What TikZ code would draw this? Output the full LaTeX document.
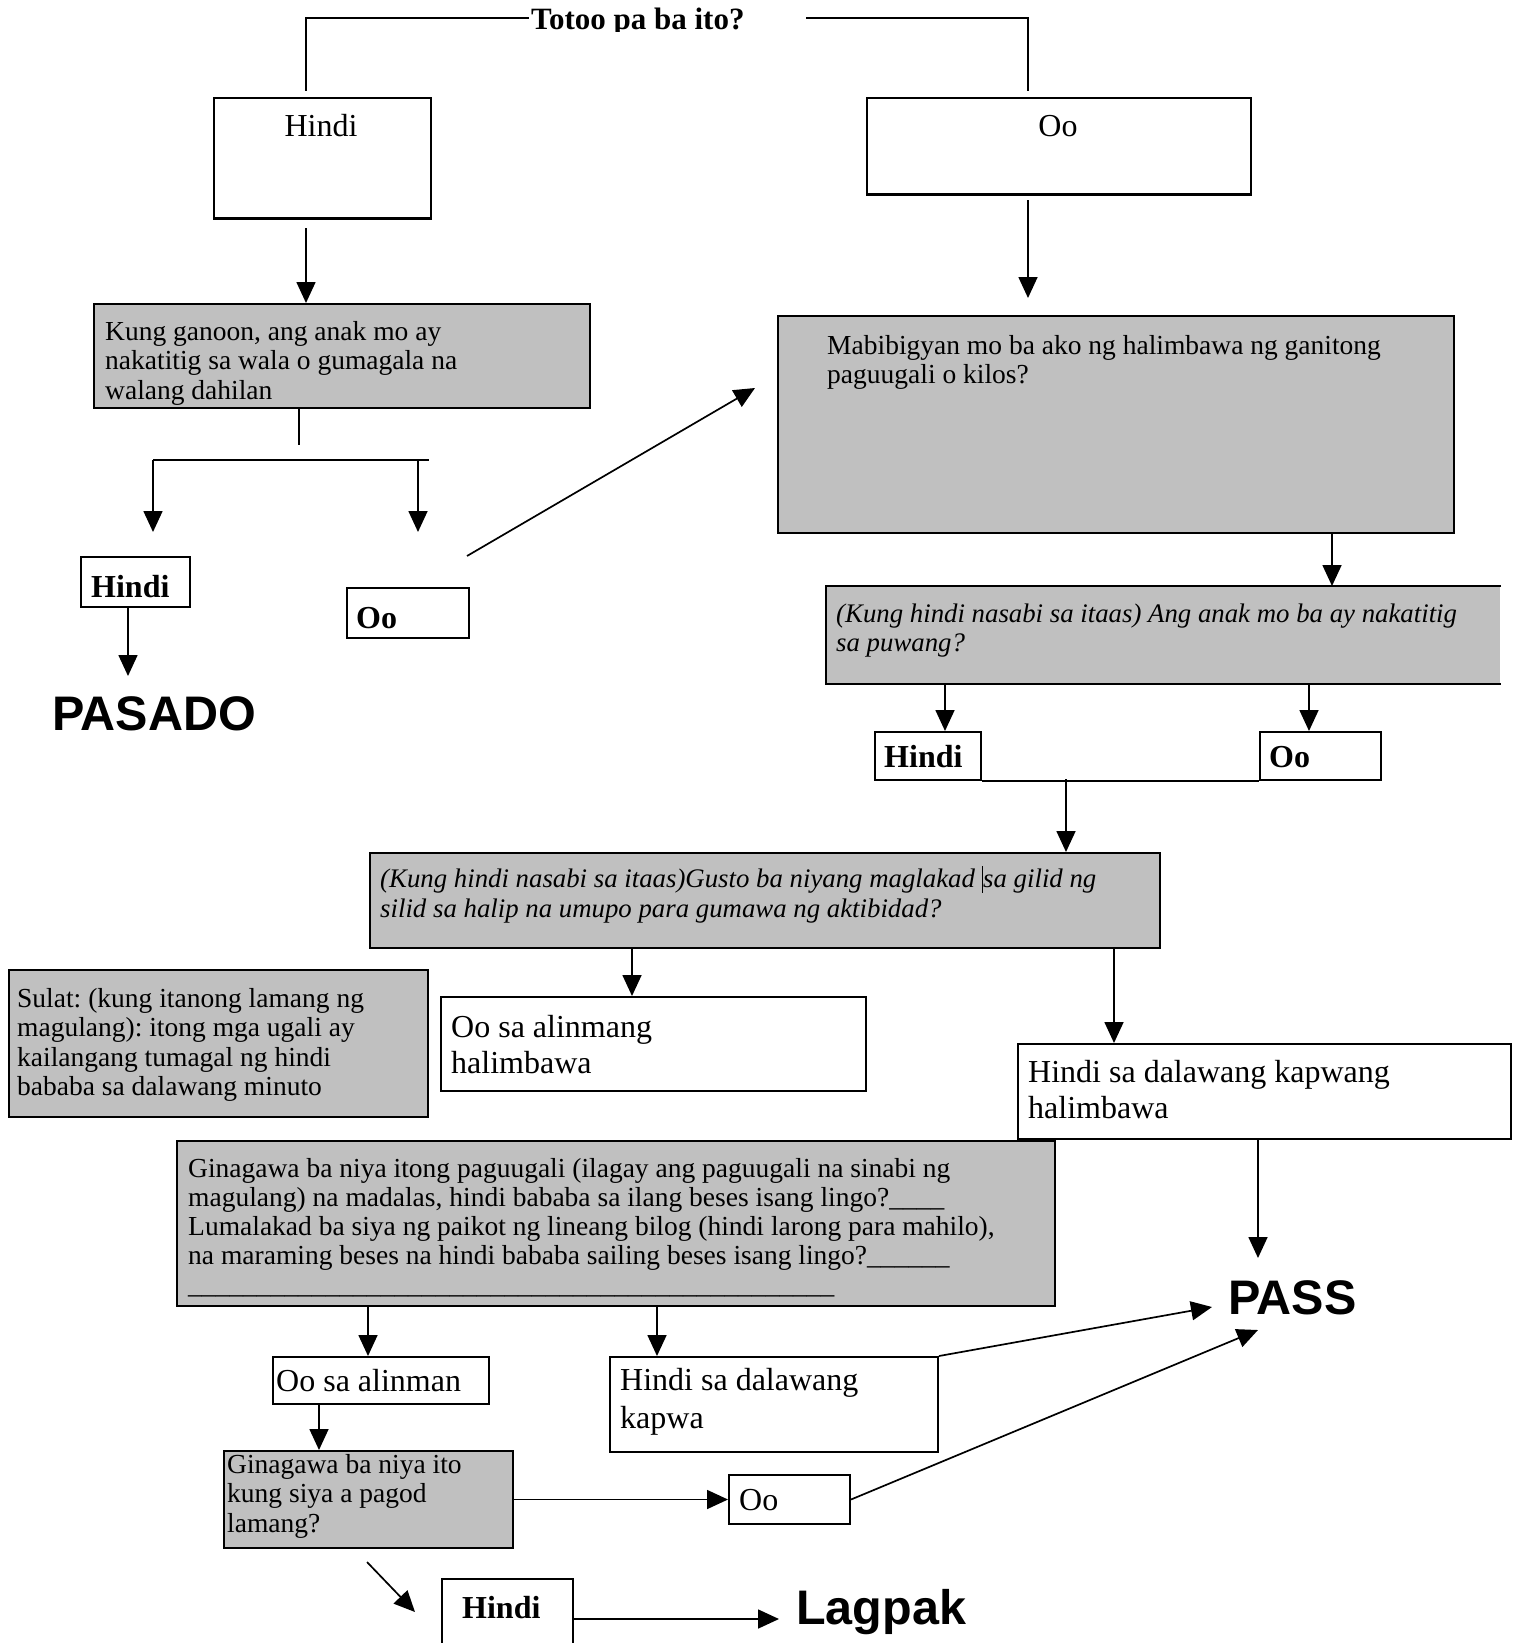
\documentclass[tikz,border=0pt]{standalone}
\usepackage{fontspec}
\setmainfont{Liberation Serif}
\setsansfont{Liberation Sans}
\usetikzlibrary{arrows.meta,calc}
\definecolor{gr}{RGB}{192,192,192}
\newcommand\ta{\fontsize{27.5}{29.5}\selectfont}
\newcommand\ti{\fontsize{26.8}{29.5}\selectfont\itshape}
\newcommand\tb{\fontsize{32}{36}\selectfont}
\newcommand\tbig{\fontsize{48.5}{52}\selectfont\sffamily\bfseries}
\newcommand\uten{\_\_\_\_\_\_\_\_\_\_}
\frenchspacing
\begin{document}
\frenchspacing
\begin{tikzpicture}[x=1pt,y=-1pt,
  box/.style={draw, line width=2pt, inner sep=0pt, anchor=north west},
  wbox/.style={box, fill=white},
  gbox/.style={box, fill=gr},
  txt/.style={inner sep=0pt, anchor=base west, align=left},
  ln/.style={line width=1.7pt},
  arr/.style={ln, -{Triangle[length=21pt,width=19pt]}}]
\useasboundingbox (0,0) rectangle (1522,1643);

% title (clipped at bottom as in the reference)
\begin{scope}
\clip (0,0) rectangle (1522,32);
\node[txt, font={\fontsize{31}{34}\selectfont\bfseries}] (title) at (531,30) {Totoo pa ba ito?};
\end{scope}
\coordinate (tl) at (306,91);
\coordinate (tla) at (529,18);
\coordinate (tr) at (1028,91);
\coordinate (tra) at (806,18);
\draw[ln] (tl) |- (tla);
\draw[ln] (tr) |- (tra);

% first level
\node[wbox, minimum width=217, minimum height=121] (h1) at (213,97) {};
\draw[line width=1pt] ($(h1.south west)+(0,-3)$) -- ($(h1.south east)+(0,-3)$);
\node[txt, font=\tb, anchor=base] (h1t) at (321,136) {Hindi};
\node[wbox, minimum width=384, minimum height=97] (o1) at (866,97) {};
\draw[line width=1pt] ($(o1.south west)+(0,-3)$) -- ($(o1.south east)+(0,-3)$);
\node[txt, font=\tb, anchor=base] (o1t) at (1058,137) {Oo};

\coordinate (a1s) at (306,228);
\coordinate (a2s) at (1028,200);
\coordinate (a2e) at (1028,298);

% left branch
\node[gbox, minimum width=496, minimum height=104] (kung) at (93,303) {};
\node[txt, font=\ta] (kungt) at (105,399) {Kung ganoon, ang anak mo ay\\nakatitig sa wala o gumagala na\\walang dahilan};
\draw[arr] (a1s) -- (kung.north -| a1s);
\draw[arr] (a2s) -- (a2e);

\coordinate (k1) at (299,445);
\draw[ln] (kung.south -| k1) -- (k1);
\coordinate (fl) at (153,460);
\coordinate (fr) at (429,460);
\coordinate (fle) at (153,532);
\coordinate (frs) at (418,460);
\coordinate (fre) at (418,532);
\draw[ln] (fl) -- (fr);
\draw[arr] (fl) -- (fle);
\draw[arr] (frs) -- (fre);

\node[wbox, minimum width=109, minimum height=50] (h2) at (80,556) {};
\node[txt, font={\tb\bfseries}] (h2t) at (91,597) {Hindi};
\coordinate (p1) at (128,676);
\draw[arr] (h2.south -| p1) -- (p1);
\node[txt, font=\tbig] (pasado) at (52,730) {PASADO};

\node[wbox, minimum width=122, minimum height=50] (o2) at (346,587) {};
\node[txt, font={\tb\bfseries}] (o2t) at (356,628) {Oo};
\coordinate (d1s) at (467,556);
\coordinate (d1e) at (755,388);
\draw[arr] (d1s) -- (d1e);

% right branch
\node[gbox, minimum width=676, minimum height=217] (mab) at (777,315) {};
\node[txt, font=\ta] (mabt) at (827,383.5) {Mabibigyan mo ba ako ng halimbawa ng ganitong\\paguugali o kilos?};

\node[box, draw=none, fill=gr, minimum width=673, minimum height=96] (it1) at (826,586) {};
\draw[line width=2pt] (it1.north east) -- (it1.north west) -- (it1.south west) -- (it1.south east);
\node[txt, font=\ti] (it1t) at (836,651.5) {(Kung hindi nasabi sa itaas) Ang anak mo ba ay nakatitig\\sa puwang?};
\coordinate (m1) at (1332,532);
\draw[arr] (mab.south -| m1) -- (it1.north -| m1);

\node[wbox, minimum width=106, minimum height=48] (h3) at (874,731) {};
\node[txt, font={\tb\bfseries}] (h3t) at (884,767) {Hindi};
\node[wbox, minimum width=121, minimum height=48] (o3) at (1259,731) {};
\node[txt, font={\tb\bfseries}] (o3t) at (1269,767) {Oo};
\coordinate (i1a) at (945,0);
\coordinate (i1b) at (1309,0);
\draw[arr] (it1.south -| i1a) -- (h3.north -| i1a);
\draw[arr] (it1.south -| i1b) -- (o3.north -| i1b);
\draw[ln] (h3.south east) -- (o3.south west);

% second question
\node[gbox, minimum width=790, minimum height=95] (it2) at (369,852) {};
\node[txt, font=\ti] (it2t) at (380,917) {(Kung hindi nasabi sa itaas)Gusto ba niyang maglakad \rule[-5pt]{1.5pt}{27pt}sa gilid ng\\silid sa halip na umupo para gumawa ng aktibidad?};
\coordinate (j1) at (1066,779);
\draw[arr] (j1) -- (it2.north -| j1);

\node[gbox, minimum width=419, minimum height=147] (sul) at (8,969) {};
\node[txt, font=\ta] (sult) at (17,1095.5) {Sulat: (kung itanong lamang ng\\magulang): itong mga ugali ay\\kailangang tumagal ng hindi\\bababa sa dalawang minuto};

\node[wbox, minimum width=425, minimum height=94] (oa) at (440,996) {};
\node[txt, font=\tb] (oat) at (451,1073) {Oo sa alinmang\\halimbawa};
\node[wbox, minimum width=493, minimum height=95] (hk) at (1017,1043) {};
\node[txt, font=\tb] (hkt) at (1028,1118) {Hindi sa dalawang kapwang\\halimbawa};
\coordinate (q1) at (632,0);
\coordinate (q2) at (1114,0);
\draw[arr] (it2.south -| q1) -- (oa.north -| q1);
\draw[arr] (it2.south -| q2) -- (hk.north -| q2);

\coordinate (ps1) at (1258,1258);
\draw[arr] (hk.south -| ps1) -- (ps1);
\node[txt, font=\tbig] (pass) at (1228,1314) {PASS};

% third question
\node[gbox, minimum width=878, minimum height=165] (gin) at (176,1140) {};
\node[txt, font={\fontsize{27.5}{29}\selectfont}] (gint) at (188,1293) {Ginagawa ba niya itong paguugali (ilagay ang paguugali na sinabi ng\\magulang) na madalas, hindi bababa sa ilang beses isang lingo?\_\_\_\_\\Lumalakad ba siya ng paikot ng lineang bilog (hindi larong para mahilo),\\na maraming beses na hindi bababa sailing beses isang lingo?\_\_\_\_\_\_\\\uten\uten\uten\uten\_\_\_\_\_\_\_};

\node[wbox, minimum width=216, minimum height=47] (osa) at (272,1356) {};
\node[txt, font=\tb] (osat) at (276,1391) {Oo sa alinman};
\node[wbox, minimum width=328, minimum height=95] (hdk) at (609,1356) {};
\node[txt, font={\fontsize{32}{38}\selectfont}] (hdkt) at (620,1428) {Hindi sa dalawang\\kapwa};
\coordinate (g1) at (368,0);
\coordinate (g2) at (657,0);
\draw[arr] (gin.south -| g1) -- (osa.north -| g1);
\draw[arr] (gin.south -| g2) -- (hdk.north -| g2);
\coordinate (pe1) at (1212,1307);
\draw[arr] (hdk.north east) -- (pe1);

\node[gbox, minimum width=289, minimum height=97] (gs) at (223,1450) {};
\node[txt, font=\ta] (gst) at (227,1532) {Ginagawa ba niya ito\\kung siya a pagod\\lamang?};
\coordinate (s1) at (319,0);
\draw[arr] (osa.south -| s1) -- (gs.north -| s1);

\node[wbox, minimum width=121, minimum height=49] (oo4) at (728,1474) {};
\node[txt, font=\tb] (oo4t) at (739,1510) {Oo};
\draw[arr] (gs.east |- oo4.west) -- (oo4.west);
\coordinate (pe2) at (1258,1330);
\draw[arr] (oo4.east) -- (pe2);

\coordinate (x1) at (367,1562);
\coordinate (x2) at (415,1612);
\draw[arr] (x1) -- (x2);
\node[wbox, minimum width=131, minimum height=90] (h5) at (441,1578) {};
\node[txt, font={\tb\bfseries}] (h5t) at (462,1618) {Hindi};
\coordinate (lg) at (779,1619);
\draw[arr] (h5.east |- lg) -- (lg);
\node[txt, font=\tbig] (lagpak) at (796,1624) {Lagpak};
\end{tikzpicture}
\end{document}
